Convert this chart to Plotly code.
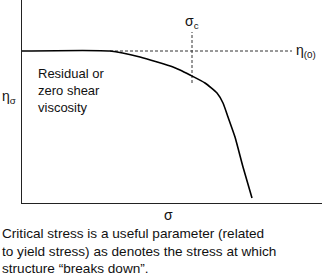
import plotly.graph_objects as go

# Curve: viscosity vs stress (arbitrary units)
stress = [0, 88, 118, 151, 158, 168, 183, 195, 201, 206, 213, 221, 230]
viscosity = [152, 152, 146, 136, 133, 128, 120, 110, 100, 86, 66, 36, 5]

eta0 = 152
sigma_c = 170
dash_x_end = 270
sigma_c_dash = [120, 171]

caption = ["Critical stress is a useful parameter (related",
           "to yield stress) as denotes the stress at which",
           "structure \u201cbreaks down\u201d."]

XR, YR = 300, 203
fam = "Liberation Sans, Arial, sans-serif"
fnt = dict(family=fam, size=13, color="#111")
gfnt = dict(family=fam, size=14, color="#111")
cfnt = dict(family=fam, size=13.6, color="#111")

fig = go.Figure()
fig.add_trace(go.Scatter(x=[stress[1], dash_x_end], y=[eta0, eta0], mode="lines",
                         line=dict(color="#333", width=1, dash="3px,2px"), hoverinfo="skip"))
fig.add_trace(go.Scatter(x=[sigma_c, sigma_c], y=sigma_c_dash, mode="lines",
                         line=dict(color="#333", width=1, dash="3px,2px"), hoverinfo="skip"))
fig.add_trace(go.Scatter(x=stress, y=viscosity, mode="lines",
                         line=dict(color="black", width=1.6, shape="spline", smoothing=0.5)))

fig.update_xaxes(range=[0, XR], showgrid=False, zeroline=False, showticklabels=False,
                 ticks="", showline=True, linecolor="#222", linewidth=1.2)
fig.update_yaxes(range=[0, YR], showgrid=False, zeroline=False, showticklabels=False,
                 ticks="", showline=True, linecolor="#222", linewidth=1.2)

def P(x, y):
    return dict(x=x / XR, y=y / YR, xref="paper", yref="paper")

annotations = []
for (x, y, t) in [(sigma_c, 181, "\u03c3<sub>c</sub>"),
                  (284, eta0, "\u03b7<sub>(0)</sub>"),
                  (-13, 106, "\u03b7<sub>\u03c3</sub>"),
                  (146, -12, "\u03c3")]:
    annotations.append(dict(**P(x, y), text=t, showarrow=False, font=gfnt,
                            xanchor="center", yanchor="middle"))
annotations.append(dict(**P(14, 113), showarrow=False, align="left",
                        xanchor="left", yanchor="middle", font=fnt,
                        text="Residual or<br>zero shear<br>viscosity"))
for i, line in enumerate(caption):
    annotations.append(dict(**P(-22, -31 - 17 * i), showarrow=False,
                            xanchor="left", yanchor="middle", font=cfnt, text=line))

fig.update_layout(width=323, height=278, margin=dict(l=22, r=1, t=0, b=75),
                  paper_bgcolor="white", plot_bgcolor="white", showlegend=False,
                  annotations=annotations)

fig.write_html("out.html", config={"displayModeBar": False},
               post_script="document.body.style.margin='0';")
